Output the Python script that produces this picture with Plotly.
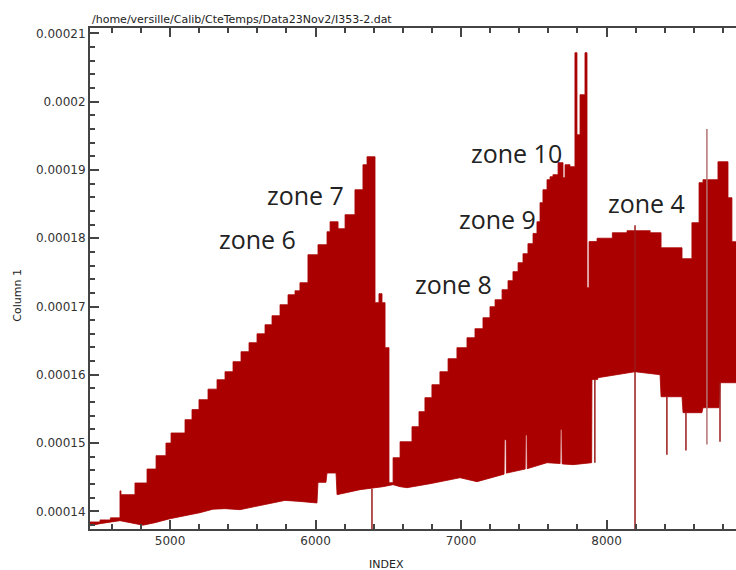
import plotly.graph_objects as go

SCALE = 1e-4  # all y values below are in units of 1e-4

# Upper envelope of the signal (step starts)
upper_x = [4450, 4519, 4590, 4656, 4663, 4759, 4842, 4904, 4972, 5007, 5103, 5151, 5199, 5261,
           5323, 5378, 5433, 5488, 5543, 5598, 5653, 5701, 5756, 5811, 5859, 5893, 5948, 6017,
           6079, 6100, 6155, 6203, 6271, 6326, 6354, 6409, 6436, 6457, 6478, 6505, 6533, 6581,
           6663, 6711, 6752, 6800, 6855, 6911, 6972, 7041, 7096, 7151, 7199, 7234, 7282, 7323,
           7357, 7392, 7426, 7460, 7495, 7522, 7543, 7563, 7591, 7612, 7632, 7667, 7701, 7715,
           7749, 7783, 7797, 7818, 7852, 7866, 7880, 7935, 8040, 8141, 8300, 8375, 8519, 8587,
           8636, 8663, 8766, 8835, 8862, 8890]
upper_y = [1.3845, 1.3875, 1.3905, 1.4300, 1.4245, 1.4416, 1.4620, 1.4816, 1.5000, 1.5148,
           1.5343, 1.5490, 1.5636, 1.5790, 1.5928, 1.6045, 1.6192, 1.6338, 1.6470, 1.6600,
           1.6733, 1.6865, 1.7026, 1.7172, 1.7230, 1.7348, 1.7758, 1.7905, 1.8095, 1.8241,
           1.8139, 1.8344, 1.8710, 1.9076, 1.9193, 1.7056, 1.7188, 1.7056, 1.6397, 1.4420,
           1.4786, 1.5020, 1.5240, 1.5460, 1.5665, 1.5855, 1.6045, 1.6236, 1.6397, 1.6543,
           1.6675, 1.6836, 1.6997, 1.7099, 1.7246, 1.7378, 1.7510, 1.7641, 1.7773, 1.7920,
           1.8070, 1.8241, 1.8520, 1.8710, 1.8857, 1.8900, 1.8930, 1.9106, 1.8886, 1.9076,
           1.9047, 2.0716, 1.9515, 2.0101, 2.0716, 1.7275, 1.7950, 1.8000, 1.8080, 1.8110,
           1.8080, 1.7860, 1.7700, 1.8227, 1.8813, 1.8857, 1.9120, 1.8593, 1.7949, 1.7949]

# Lower envelope of the signal
lower_x = [4450, 4519, 4656, 4725, 4814, 4897, 5000, 5103, 5206, 5295, 5378, 5481, 5618, 5721,
           5790, 5893, 6010, 6017, 6072, 6079, 6141, 6148, 6306, 6464, 6533, 6581, 6629, 6787,
           6993, 7110, 7268, 7296, 7298, 7310, 7312, 7441, 7443, 7453, 7455, 7495, 7591, 7681,
           7683, 7693, 7695, 7770, 7898, 7900, 7939, 7941, 8196, 8368, 8375, 8519, 8526, 8656,
           8663, 8773, 8780, 8890]
lower_y = [1.3790, 1.3820, 1.3864, 1.3835, 1.3798, 1.3835, 1.3893, 1.3937, 1.3981, 1.4032,
           1.4040, 1.4025, 1.4083, 1.4135, 1.4161, 1.4146, 1.4123, 1.4425, 1.4425, 1.4562,
           1.4562, 1.4245, 1.4318, 1.4362, 1.4391, 1.4362, 1.4347, 1.4405, 1.4493, 1.4435,
           1.4537, 1.4545, 1.5050, 1.5050, 1.4560, 1.4620, 1.5120, 1.5120, 1.4625, 1.4654,
           1.4713, 1.4700, 1.5200, 1.5200, 1.4695, 1.4684, 1.4713, 1.5930, 1.5930, 1.5957,
           1.6045, 1.6001, 1.5679, 1.5679, 1.5445, 1.5445, 1.5518, 1.5518, 1.5884, 1.5884]

# Isolated single-sample spikes (x, low, high)
spike_x = [6388, 7920, 8196, 8415, 8546, 8780]
spike_lo = [1.3600, 1.4713, 1.3600, 1.4830, 1.4890, 1.5020]
spike_hi = [1.4330, 1.5930, 1.8190, 1.5679, 1.5445, 1.5884]

light_x = [8690]
light_lo = [1.4980]
light_hi = [1.9600]

# Zone labels
zone_text = ["zone 6", "zone 7", "zone 8", "zone 9", "zone 10", "zone 4"]
zone_x = [5598, 5928, 6945, 7254, 7378, 8278]
zone_y = [1.7993, 1.8637, 1.7334, 1.8285, 1.9252, 1.8520]

x_ticks = [5000, 6000, 7000, 8000]
x_tick_text = ["5000", "6000", "7000", "8000"]
y_ticks = [1.4, 1.5, 1.6, 1.7, 1.8, 1.9, 2.0, 2.1]
y_tick_text = ["0.00014", "0.00015", "0.00016", "0.00017", "0.00018", "0.00019", "0.0002", "0.00021"]

RED = "#aa0000"
AX = "#444444"
TXT = "#333333"


def sc(v):
    return [a * SCALE for a in v]


def segs(xs, lo, hi):
    X, Y = [], []
    for x, a, b in zip(xs, lo, hi):
        X += [x, x, None]
        Y += [a * SCALE, b * SCALE, None]
    return X, Y


fig = go.Figure()
fig.add_trace(go.Scatter(x=lower_x, y=sc(lower_y), mode="lines",
                         line=dict(color=RED, width=0.8), hoverinfo="skip", showlegend=False))
fig.add_trace(go.Scatter(x=upper_x, y=sc(upper_y), mode="lines",
                         line=dict(color=RED, width=0.8, shape="hv"), fill="tonexty",
                         fillcolor=RED, hoverinfo="skip", showlegend=False))
sx, sy = segs(spike_x, spike_lo, spike_hi)
fig.add_trace(go.Scatter(x=sx, y=sy, mode="lines", line=dict(color="#9a1a1a", width=1.5),
                         hoverinfo="skip", showlegend=False))
lx, ly = segs(light_x, light_lo, light_hi)
fig.add_trace(go.Scatter(x=lx, y=ly, mode="lines", line=dict(color="#b47272", width=1.5),
                         hoverinfo="skip", showlegend=False))

for t, x, y in zip(zone_text, zone_x, zone_y):
    fig.add_annotation(x=x, y=y * SCALE, text=t, showarrow=False, xanchor="center",
                       yanchor="middle", font=dict(family="Open Sans", size=25, color="#222222"))

fig.add_annotation(xref="paper", yref="paper", x=0, y=1, xanchor="left", yanchor="bottom",
                   yshift=0, text="/home/versille/Calib/CteTemps/Data23Nov2/I353-2.dat",
                   showarrow=False, font=dict(family="DejaVu Sans", size=11, color="#222222"))
fig.add_annotation(xref="paper", yref="paper", x=(386 - 90) / 646, y=0, xanchor="center",
                   yanchor="top", yshift=-27, text="INDEX", showarrow=False,
                   font=dict(family="DejaVu Sans", size=11, color="#222222"))
fig.add_annotation(xref="paper", yref="paper", x=0, y=(529.3 - 296) / 501, xanchor="center",
                   yanchor="middle", xshift=-72, text="Column 1", textangle=-90, showarrow=False,
                   font=dict(family="DejaVu Sans", size=11, color="#222222"))

axis_common = dict(showgrid=False, zeroline=False, showline=True, linecolor=AX, linewidth=2,
                   ticks="inside", ticklen=9, tickwidth=2, tickcolor=AX,
                   tickfont=dict(family="DejaVu Sans", size=12, color=TXT))

fig.update_xaxes(range=[4450, 8890], tickmode="array", tickvals=x_ticks, ticktext=x_tick_text,
                 mirror="ticks",
                 minor=dict(ticks="inside", ticklen=5, tickwidth=1.5, tickcolor=AX,
                            tick0=0, dtick=200),
                 **axis_common)
fig.update_yaxes(range=[1.3742e-4, 2.1078e-4], tickmode="array", tickvals=sc(y_ticks),
                 ticktext=y_tick_text,
                 minor=dict(ticks="inside", ticklen=5, tickwidth=1.5, tickcolor=AX,
                            tick0=0, dtick=2e-6),
                 **axis_common)

fig.update_layout(width=736, height=570, margin=dict(l=90, r=0, t=28, b=41),
                  paper_bgcolor="white", plot_bgcolor="white", showlegend=False)

fig.write_html("out.html", config={"displayModeBar": False},
               post_script="document.body.style.margin='0';"
                           "document.body.style.overflow='hidden';")
